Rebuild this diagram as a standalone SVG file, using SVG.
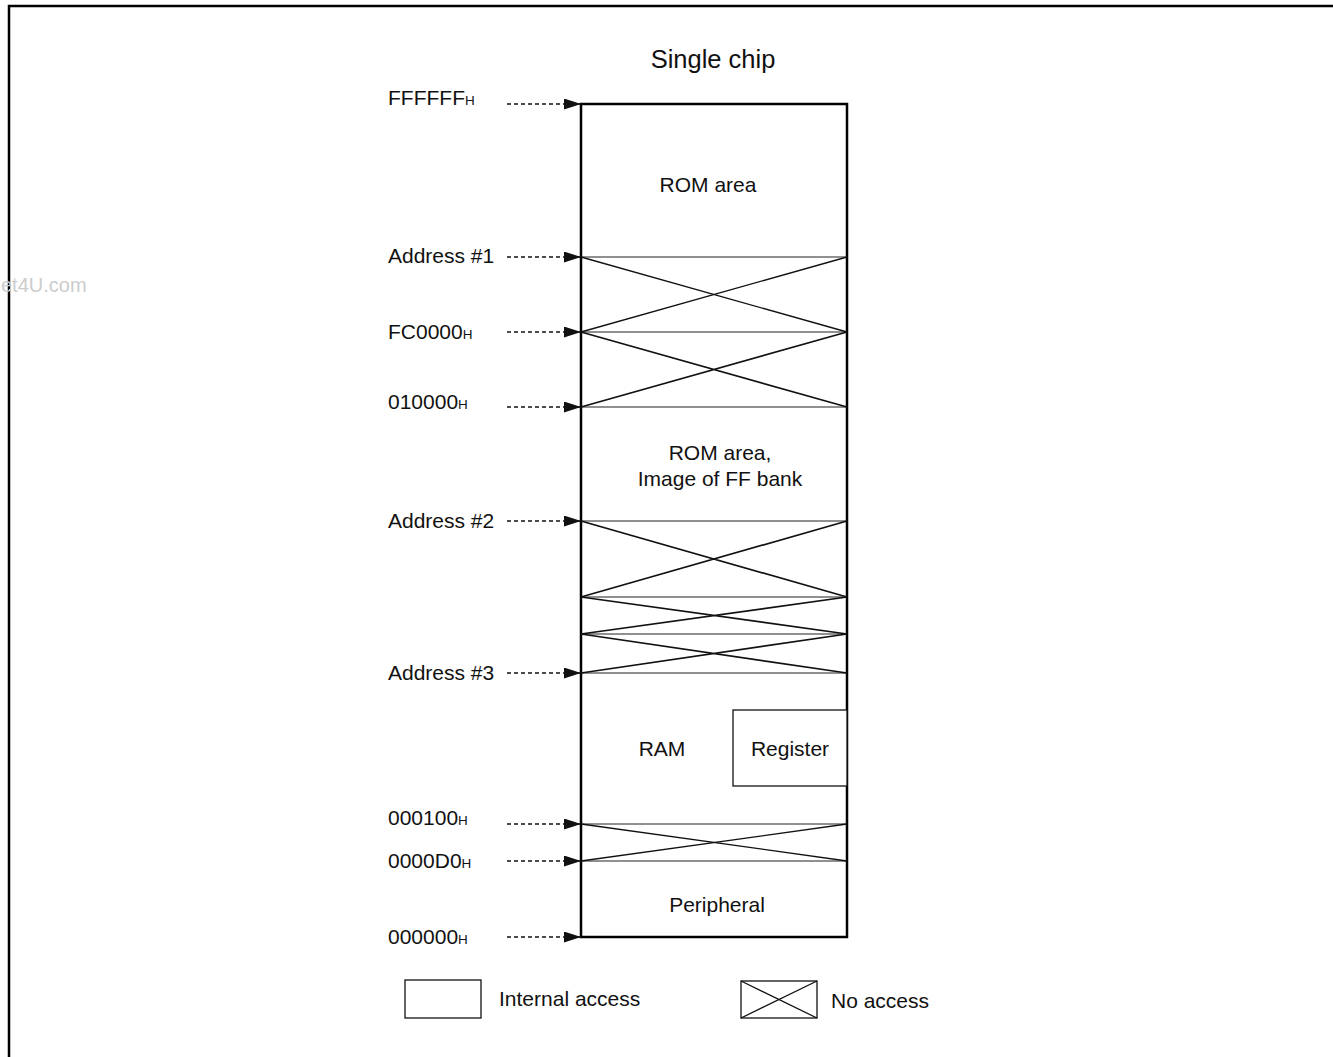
<svg xmlns="http://www.w3.org/2000/svg" width="1333" height="1057" viewBox="0 0 1333 1057">
<style>
text{font-family:"Liberation Sans",Arial,sans-serif;fill:#111}
.lbl{font-size:21px}
.sub{font-size:13.5px}
.ctr{text-anchor:middle}
.div{stroke:#222;stroke-width:1.2;fill:none}
.x{stroke:#111;stroke-width:1.3;fill:none}
.dash{stroke:#111;stroke-width:1.5;stroke-dasharray:4 3;fill:none}
</style>
<defs>
<marker id="ah" markerWidth="17" markerHeight="11" refX="17" refY="5.5" orient="auto" markerUnits="userSpaceOnUse">
<path d="M0,0 L17,5.5 L0,11 Z" fill="#111"/>
</marker>
</defs>
<rect width="1333" height="1057" fill="#fff"/>
<path d="M9,1057 V6 H1333" fill="none" stroke="#000" stroke-width="2.5"/>
<text x="1" y="292" style="font-size:20px;fill:#ccc">et4U.com</text>
<text x="713" y="68" class="ctr" style="font-size:25.5px">Single chip</text>

<g id="memory-map">
<rect x="581" y="104" width="266" height="833" fill="#fff" stroke="#000" stroke-width="2.5"/>
<g id="rom-area"><text x="708" y="192" class="lbl ctr">ROM area</text></g>
<g id="no-access-1"><path class="div" d="M581,257H847M581,332H847"/><path class="x" d="M581,257L847,332M581,332L847,257"/></g>
<g id="no-access-2"><path class="div" d="M581,407H847"/><path class="x" d="M581,332L847,407M581,407L847,332" style="stroke-width:1.7"/></g>
<g id="rom-image"><text x="720" y="460" class="lbl ctr">ROM area,</text><text x="720" y="486" class="lbl ctr">Image of FF bank</text></g>
<g id="no-access-3"><path class="div" d="M581,521H847M581,597H847"/><path class="x" d="M581,521L847,597M581,597L847,521" style="stroke-width:1.7"/></g>
<g id="no-access-4"><path class="div" d="M581,634H847"/><path class="x" d="M581,597L847,634M581,634L847,597" style="stroke-width:1.7"/></g>
<g id="no-access-5"><path class="div" d="M581,673H847"/><path class="x" d="M581,634L847,673M581,673L847,634" style="stroke-width:1.7"/></g>
<g id="ram"><text x="662" y="756" class="lbl ctr">RAM</text></g>
<g id="register"><rect x="733" y="710" width="114" height="76" fill="#fff" stroke="#111" stroke-width="1.3"/><text x="790" y="756" class="lbl ctr">Register</text></g>
<g id="no-access-6"><path class="div" d="M581,824H847M581,861H847"/><path class="x" d="M581,824L847,861M581,861L847,824"/></g>
<g id="peripheral"><text x="717" y="912" class="lbl ctr">Peripheral</text></g>
</g>

<g id="labels">
<text x="388" y="105" class="lbl">FFFFFF<tspan class="sub">H</tspan></text>
<text x="388" y="263" class="lbl">Address #1</text>
<text x="388" y="339" class="lbl">FC0000<tspan class="sub">H</tspan></text>
<text x="388" y="409" class="lbl">010000<tspan class="sub">H</tspan></text>
<text x="388" y="528" class="lbl">Address #2</text>
<text x="388" y="680" class="lbl">Address #3</text>
<text x="388" y="825" class="lbl">000100<tspan class="sub">H</tspan></text>
<text x="388" y="868" class="lbl">0000D0<tspan class="sub">H</tspan></text>
<text x="388" y="944" class="lbl">000000<tspan class="sub">H</tspan></text>
</g>

<g id="connectors">
<path class="dash" d="M507,104H581" marker-end="url(#ah)"/>
<path class="dash" d="M507,257H581" marker-end="url(#ah)"/>
<path class="dash" d="M507,332H581" marker-end="url(#ah)"/>
<path class="dash" d="M507,407H581" marker-end="url(#ah)"/>
<path class="dash" d="M507,521H581" marker-end="url(#ah)"/>
<path class="dash" d="M507,673H581" marker-end="url(#ah)"/>
<path class="dash" d="M507,824H581" marker-end="url(#ah)"/>
<path class="dash" d="M507,861H581" marker-end="url(#ah)"/>
<path class="dash" d="M507,937H581" marker-end="url(#ah)"/>
</g>

<g id="legend">
<g id="legend-internal"><rect x="405" y="980" width="76" height="38" fill="#fff" stroke="#111" stroke-width="1.3"/><text x="499" y="1006" class="lbl">Internal access</text></g>
<g id="legend-no-access"><rect x="741" y="981" width="76" height="37" fill="#fff" stroke="#111" stroke-width="1.3"/><path class="x" d="M741,981L817,1018M741,1018L817,981"/><text x="831" y="1008" class="lbl">No access</text></g>
</g>
</svg>
